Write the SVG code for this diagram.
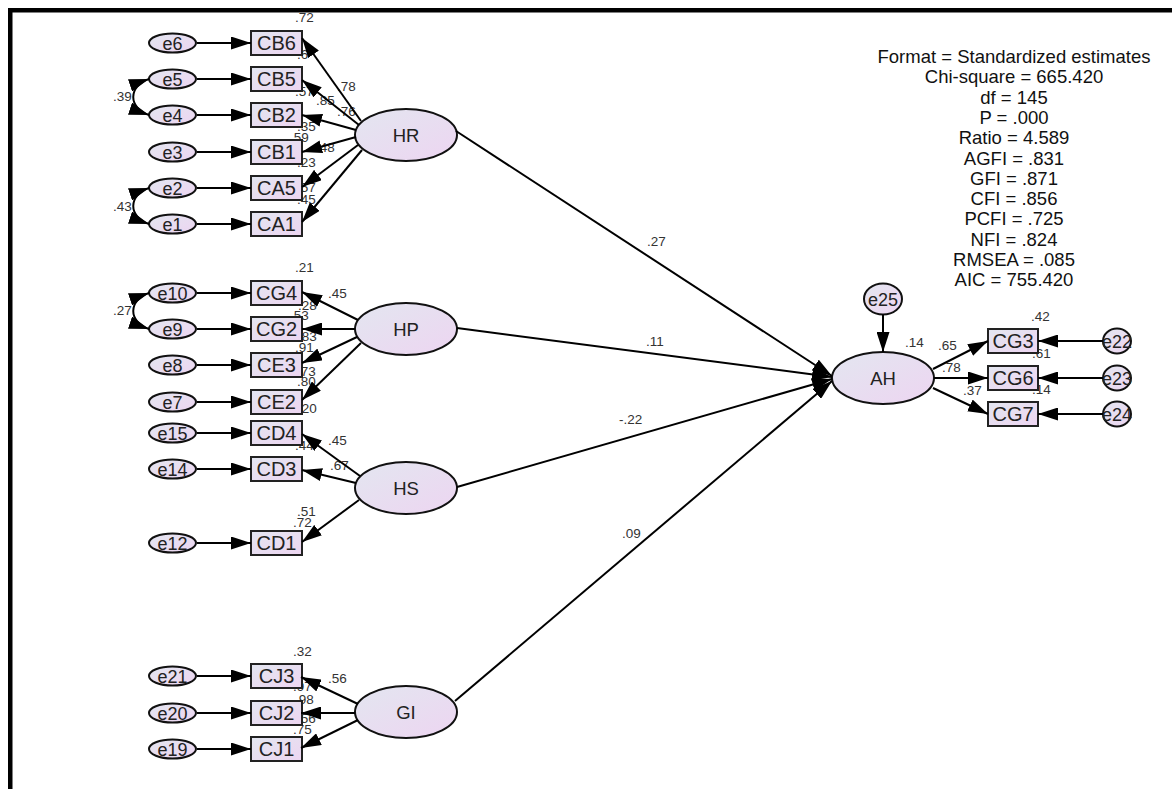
<svg xmlns="http://www.w3.org/2000/svg" width="1172" height="789" viewBox="0 0 1172 789">
<defs>
<linearGradient id="fill" x1="0" y1="0" x2="1" y2="1">
<stop offset="0" stop-color="#e3e6f0"/>
<stop offset="1" stop-color="#edd5f1"/>
</linearGradient>
<marker id="arr" markerUnits="userSpaceOnUse" markerWidth="20" markerHeight="13" refX="20" refY="6.5" orient="auto-start-reverse" viewBox="0 0 20 13">
<path d="M0,0 L20,6.5 L0,13 z" fill="#000"/>
</marker>
</defs>
<style>
.box{fill:url(#fill);stroke:#222;stroke-width:2}
.lat{fill:url(#fill);stroke:#111;stroke-width:2}
.err{fill:url(#fill);stroke:#111;stroke-width:2}
.bt{font-family:"Liberation Sans",Arial,sans-serif;font-size:20px;fill:#222;text-anchor:middle}
.lt{font-family:"Liberation Sans",Arial,sans-serif;font-size:18.5px;fill:#222;text-anchor:middle}
.et{font-family:"Liberation Sans",Arial,sans-serif;font-size:18px;fill:#222;text-anchor:middle}
.sm{font-family:"Liberation Sans",Arial,sans-serif;font-size:13.5px;fill:#333}
.st{font-family:"Liberation Sans",Arial,sans-serif;font-size:18.5px;fill:#111;text-anchor:middle}
.c{stroke:#000;stroke-width:2;fill:none;marker-end:url(#arr)}
.cv{stroke:#000;stroke-width:2;fill:none;marker-end:url(#arr);marker-start:url(#arr)}
</style>
<rect x="0" y="0" width="1172" height="789" fill="#fff"/>
<rect x="8" y="8" width="1164" height="4.5" fill="#000"/>
<rect x="8" y="8" width="4.5" height="781" fill="#000"/>

<g id="stats">
<text class="st" x="1014" y="63">Format = Standardized estimates</text>
<text class="st" x="1014" y="83.3">Chi-square = 665.420</text>
<text class="st" x="1014" y="103.6">df = 145</text>
<text class="st" x="1014" y="123.9">P = .000</text>
<text class="st" x="1014" y="144.2">Ratio = 4.589</text>
<text class="st" x="1014" y="164.5">AGFI = .831</text>
<text class="st" x="1014" y="184.8">GFI = .871</text>
<text class="st" x="1014" y="205.1">CFI = .856</text>
<text class="st" x="1014" y="225.4">PCFI = .725</text>
<text class="st" x="1014" y="245.7">NFI = .824</text>
<text class="st" x="1014" y="266">RMSEA = .085</text>
<text class="st" x="1014" y="286.3">AIC = 755.420</text>
</g>

<g id="labels" class="sm">
<text x="295" y="22">.72</text>
<text x="297" y="59">.6</text>
<text x="337" y="91">.78</text>
<text x="295" y="96">.57</text>
<text x="316" y="105">.85</text>
<text x="337" y="116">.76</text>
<text x="297" y="131">.35</text>
<text x="290" y="142">.59</text>
<text x="316" y="152">.48</text>
<text x="297" y="167">.23</text>
<text x="297" y="192">.57</text>
<text x="297" y="204">.45</text>
<text x="113" y="101">.39</text>
<text x="113" y="211">.43</text>

<text x="295" y="272">.21</text>
<text x="328" y="298">.45</text>
<text x="298" y="310">.28</text>
<text x="290" y="320">.53</text>
<text x="298" y="341">.83</text>
<text x="295" y="352">.91</text>
<text x="297" y="376">.73</text>
<text x="297" y="386">.80</text>
<text x="298" y="413">.20</text>
<text x="113" y="315">.27</text>

<text x="328" y="445">.45</text>
<text x="295" y="450">.44</text>
<text x="330" y="470">.67</text>
<text x="297" y="516">.51</text>
<text x="293" y="527">.72</text>

<text x="293" y="656">.32</text>
<text x="328" y="683">.56</text>
<text x="293" y="691">.97</text>
<text x="295" y="704">.98</text>
<text x="297" y="723">.56</text>
<text x="293" y="734">.75</text>

<text x="647" y="246">.27</text>
<text x="646" y="346">.11</text>
<text x="619" y="424">-.22</text>
<text x="622" y="538">.09</text>

<text x="905" y="347">.14</text>
<text x="938" y="350">.65</text>
<text x="942" y="372">.78</text>
<text x="963" y="395">.37</text>
<text x="1031" y="321">.42</text>
<text x="1032" y="358">.61</text>
<text x="1032" y="394">.14</text>
</g>

<g id="HR"><ellipse class="lat" cx="406" cy="135" rx="51" ry="26"/><text class="lt" x="406" y="141.5">HR</text></g>
<g id="HP"><ellipse class="lat" cx="406" cy="329" rx="51" ry="26"/><text class="lt" x="406" y="335.5">HP</text></g>
<g id="HS"><ellipse class="lat" cx="406" cy="488" rx="51" ry="26"/><text class="lt" x="406" y="494.5">HS</text></g>
<g id="GI"><ellipse class="lat" cx="406" cy="712" rx="51" ry="26"/><text class="lt" x="406" y="718.5">GI</text></g>
<g id="AH"><ellipse class="lat" cx="883" cy="378" rx="51" ry="26"/><text class="lt" x="883" y="384.5">AH</text></g>

<g id="CB6"><rect class="box" x="251" y="31" width="51" height="24"/><text class="bt" x="276.5" y="50">CB6</text></g>
<g id="CB5"><rect class="box" x="251" y="67" width="51" height="24"/><text class="bt" x="276.5" y="86">CB5</text></g>
<g id="CB2"><rect class="box" x="251" y="103" width="51" height="24"/><text class="bt" x="276.5" y="122">CB2</text></g>
<g id="CB1"><rect class="box" x="251" y="140" width="51" height="24"/><text class="bt" x="276.5" y="159">CB1</text></g>
<g id="CA5"><rect class="box" x="251" y="176" width="51" height="24"/><text class="bt" x="276.5" y="195">CA5</text></g>
<g id="CA1"><rect class="box" x="251" y="212" width="51" height="24"/><text class="bt" x="276.5" y="231">CA1</text></g>
<g id="CG4"><rect class="box" x="251" y="281" width="51" height="24"/><text class="bt" x="276.5" y="300">CG4</text></g>
<g id="CG2"><rect class="box" x="251" y="317" width="51" height="24"/><text class="bt" x="276.5" y="336">CG2</text></g>
<g id="CE3"><rect class="box" x="251" y="353" width="51" height="24"/><text class="bt" x="276.5" y="372">CE3</text></g>
<g id="CE2"><rect class="box" x="251" y="390" width="51" height="24"/><text class="bt" x="276.5" y="409">CE2</text></g>
<g id="CD4"><rect class="box" x="251" y="421" width="51" height="24"/><text class="bt" x="276.5" y="440">CD4</text></g>
<g id="CD3"><rect class="box" x="251" y="457" width="51" height="24"/><text class="bt" x="276.5" y="476">CD3</text></g>
<g id="CD1"><rect class="box" x="251" y="531" width="51" height="24"/><text class="bt" x="276.5" y="550">CD1</text></g>
<g id="CJ3"><rect class="box" x="251" y="664" width="51" height="24"/><text class="bt" x="276.5" y="683">CJ3</text></g>
<g id="CJ2"><rect class="box" x="251" y="701" width="51" height="24"/><text class="bt" x="276.5" y="720">CJ2</text></g>
<g id="CJ1"><rect class="box" x="251" y="737" width="51" height="24"/><text class="bt" x="276.5" y="756">CJ1</text></g>
<g id="CG3"><rect class="box" x="988" y="329" width="50" height="24"/><text class="bt" x="1013" y="348">CG3</text></g>
<g id="CG6"><rect class="box" x="988" y="366" width="50" height="24"/><text class="bt" x="1013" y="385">CG6</text></g>
<g id="CG7"><rect class="box" x="988" y="402" width="50" height="24"/><text class="bt" x="1013" y="421">CG7</text></g>

<g id="e6"><ellipse class="err" cx="172.5" cy="43" rx="23.5" ry="9.5"/><text class="et" x="172.5" y="49.5">e6</text></g>
<g id="e5"><ellipse class="err" cx="172.5" cy="79" rx="23.5" ry="9.5"/><text class="et" x="172.5" y="85.5">e5</text></g>
<g id="e4"><ellipse class="err" cx="172.5" cy="115" rx="23.5" ry="9.5"/><text class="et" x="172.5" y="121.5">e4</text></g>
<g id="e3"><ellipse class="err" cx="172.5" cy="152" rx="23.5" ry="9.5"/><text class="et" x="172.5" y="158.5">e3</text></g>
<g id="e2"><ellipse class="err" cx="172.5" cy="188" rx="23.5" ry="9.5"/><text class="et" x="172.5" y="194.5">e2</text></g>
<g id="e1"><ellipse class="err" cx="172.5" cy="224" rx="23.5" ry="9.5"/><text class="et" x="172.5" y="230.5">e1</text></g>
<g id="e10"><ellipse class="err" cx="172.5" cy="293" rx="23.5" ry="9.5"/><text class="et" x="172.5" y="299.5">e10</text></g>
<g id="e9"><ellipse class="err" cx="172.5" cy="329" rx="23.5" ry="9.5"/><text class="et" x="172.5" y="335.5">e9</text></g>
<g id="e8"><ellipse class="err" cx="172.5" cy="365" rx="23.5" ry="9.5"/><text class="et" x="172.5" y="371.5">e8</text></g>
<g id="e7"><ellipse class="err" cx="172.5" cy="402" rx="23.5" ry="9.5"/><text class="et" x="172.5" y="408.5">e7</text></g>
<g id="e15"><ellipse class="err" cx="172.5" cy="433" rx="23.5" ry="9.5"/><text class="et" x="172.5" y="439.5">e15</text></g>
<g id="e14"><ellipse class="err" cx="172.5" cy="469" rx="23.5" ry="9.5"/><text class="et" x="172.5" y="475.5">e14</text></g>
<g id="e12"><ellipse class="err" cx="172.5" cy="543" rx="23.5" ry="9.5"/><text class="et" x="172.5" y="549.5">e12</text></g>
<g id="e21"><ellipse class="err" cx="172.5" cy="676" rx="23.5" ry="9.5"/><text class="et" x="172.5" y="682.5">e21</text></g>
<g id="e20"><ellipse class="err" cx="172.5" cy="713" rx="23.5" ry="9.5"/><text class="et" x="172.5" y="719.5">e20</text></g>
<g id="e19"><ellipse class="err" cx="172.5" cy="749" rx="23.5" ry="9.5"/><text class="et" x="172.5" y="755.5">e19</text></g>
<g id="e25"><ellipse class="err" cx="883" cy="299" rx="19" ry="15.5"/><text class="et" x="883" y="305.5">e25</text></g>
<g id="e22"><ellipse class="err" cx="1117" cy="341" rx="14" ry="12.5"/><text class="et" x="1117" y="347.5">e22</text></g>
<g id="e23"><ellipse class="err" cx="1117" cy="378" rx="14" ry="12.5"/><text class="et" x="1117" y="384.5">e23</text></g>
<g id="e24"><ellipse class="err" cx="1117" cy="414" rx="14" ry="12.5"/><text class="et" x="1117" y="420.5">e24</text></g>

<g id="connectors">
<line class="c" x1="197" y1="43" x2="251" y2="43"/>
<line class="c" x1="197" y1="79" x2="251" y2="79"/>
<line class="c" x1="197" y1="115" x2="251" y2="115"/>
<line class="c" x1="197" y1="152" x2="251" y2="152"/>
<line class="c" x1="197" y1="188" x2="251" y2="188"/>
<line class="c" x1="197" y1="224" x2="251" y2="224"/>
<line class="c" x1="197" y1="293" x2="251" y2="293"/>
<line class="c" x1="197" y1="329" x2="251" y2="329"/>
<line class="c" x1="197" y1="365" x2="251" y2="365"/>
<line class="c" x1="197" y1="402" x2="251" y2="402"/>
<line class="c" x1="197" y1="433" x2="251" y2="433"/>
<line class="c" x1="197" y1="469" x2="251" y2="469"/>
<line class="c" x1="197" y1="543" x2="251" y2="543"/>
<line class="c" x1="197" y1="676" x2="251" y2="676"/>
<line class="c" x1="197" y1="713" x2="251" y2="713"/>
<line class="c" x1="197" y1="749" x2="251" y2="749"/>

<path class="cv" d="M149,79 C128,86 128,108 149,115"/>
<path class="cv" d="M149,188 C128,195 128,217 149,224"/>
<path class="cv" d="M149,293 C128,300 128,322 149,329"/>

<line class="c" x1="361" y1="121" x2="302" y2="38"/>
<line class="c" x1="359" y1="125" x2="302" y2="80"/>
<line class="c" x1="356" y1="130" x2="302" y2="115"/>
<line class="c" x1="356" y1="137" x2="302" y2="152"/>
<line class="c" x1="358" y1="145" x2="302" y2="187"/>
<line class="c" x1="362" y1="150" x2="302" y2="222"/>

<line class="c" x1="358" y1="320" x2="302" y2="292"/>
<line class="c" x1="355" y1="329" x2="302" y2="329"/>
<line class="c" x1="357" y1="337" x2="302" y2="363"/>
<line class="c" x1="361" y1="343" x2="302" y2="400"/>

<line class="c" x1="360" y1="476" x2="302" y2="434"/>
<line class="c" x1="356" y1="483" x2="302" y2="470"/>
<line class="c" x1="359" y1="500" x2="302" y2="542"/>

<line class="c" x1="358" y1="704" x2="301" y2="677"/>
<line class="c" x1="355" y1="713" x2="301" y2="713"/>
<line class="c" x1="358" y1="720" x2="301" y2="748"/>

<line class="c" x1="456" y1="131" x2="832" y2="376"/>
<line class="c" x1="457" y1="328" x2="832" y2="377"/>
<line class="c" x1="457" y1="487" x2="832" y2="379"/>
<line class="c" x1="455" y1="701" x2="832" y2="381"/>

<line class="c" x1="883" y1="314.5" x2="883" y2="352"/>
<line class="c" x1="933" y1="369" x2="988" y2="341"/>
<line class="c" x1="934" y1="378" x2="988" y2="378"/>
<line class="c" x1="933" y1="388" x2="988" y2="414"/>
<line class="c" x1="1103" y1="341" x2="1038" y2="341"/>
<line class="c" x1="1103" y1="378" x2="1038" y2="378"/>
<line class="c" x1="1103" y1="414" x2="1038" y2="414"/>
</g>
</svg>
